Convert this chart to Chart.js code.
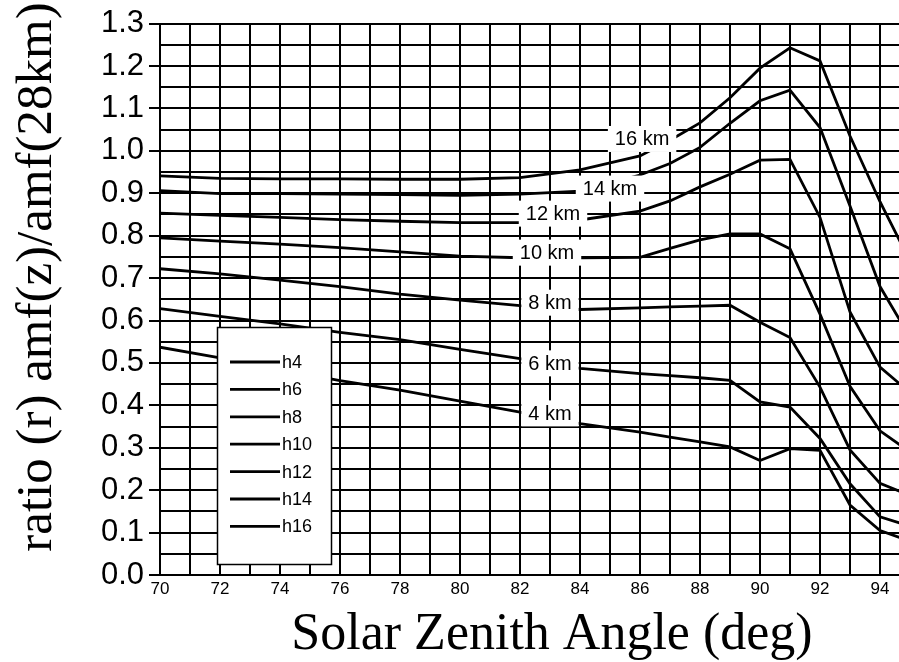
<!DOCTYPE html>
<html><head><meta charset="utf-8">
<script src="https://cdn.jsdelivr.net/npm/chart.js@4/dist/chart.umd.min.js"></script>
<style>html,body{margin:0;padding:0;background:#fff;overflow:hidden}canvas{display:block}</style>
</head><body>
<canvas id="c" width="899" height="662"></canvas>
<script>
// ---- data ----
const angles = [70,72,74,76,78,80,82,84,86,87,88,89,90,91,92,93,94,95];
const h4  = [0.537,0.512,0.485,0.458,0.436,0.410,0.384,0.357,0.337,0.325,0.314,0.302,0.270,0.298,0.294,0.165,0.105,0.080];
const h6  = [0.628,0.610,0.592,0.572,0.555,0.532,0.510,0.487,0.475,0.470,0.465,0.459,0.408,0.396,0.322,0.215,0.137,0.115];
const h8  = [0.722,0.710,0.695,0.680,0.662,0.648,0.635,0.626,0.630,0.632,0.634,0.636,0.596,0.560,0.443,0.295,0.216,0.188];
const h10 = [0.795,0.787,0.780,0.772,0.762,0.752,0.748,0.748,0.749,0.770,0.790,0.804,0.804,0.769,0.615,0.445,0.340,0.290];
const h12 = [0.853,0.848,0.843,0.838,0.834,0.831,0.831,0.837,0.858,0.882,0.915,0.945,0.978,0.980,0.843,0.620,0.490,0.430];
const h14 = [0.906,0.899,0.899,0.898,0.897,0.895,0.898,0.905,0.943,0.970,1.008,1.065,1.118,1.143,1.055,0.870,0.680,0.560];
const h16 = [0.941,0.935,0.934,0.934,0.933,0.933,0.937,0.955,0.988,1.025,1.066,1.125,1.195,1.243,1.212,1.035,0.880,0.740];
const seriesNames = ['h4','h6','h8','h10','h12','h14','h16'];
const curveLabels = ['4 km','6 km','8 km','10 km','12 km','14 km','16 km'];
const xTickLabels = ['70','72','74','76','78','80','82','84','86','88','90','92','94'];
const yTickLabels = ['0.0','0.1','0.2','0.3','0.4','0.5','0.6','0.7','0.8','0.9','1.0','1.1','1.2','1.3'];
const xTitle = 'Solar Zenith Angle (deg)';
const yTitle = 'ratio (r) amf(z)/amf(28km)';
const seriesValues = [h4,h6,h8,h10,h12,h14,h16];

const datasets = seriesNames.map((n,i)=>({
  label: n,
  data: angles.map((a,j)=>({x:a,y:seriesValues[i][j]})),
  borderColor:'#000', borderWidth:2.8, pointRadius:0, tension:0, fill:false
}));

const bgPlugin = {
  id:'bg',
  beforeDraw(chart){const c=chart.ctx;c.save();c.fillStyle='#fff';c.fillRect(0,0,chart.width,chart.height);c.restore();}
};

// inline curve labels, anchored in data coordinates
const curveLabelPlugin = {
  id:'curveLabels',
  afterDatasetsDraw(chart, args, opts){
    const c=chart.ctx, xs=chart.scales.x, ys=chart.scales.y;
    c.save();
    c.font='20px "Liberation Sans", Arial, sans-serif';
    c.textAlign='center'; c.textBaseline='middle';
    opts.anchors.forEach((p,i)=>{
      const px=xs.getPixelForValue(p[0]), py=ys.getPixelForValue(p[1]);
      const t=curveLabels[i], w=c.measureText(t).width+14, h=26;
      c.fillStyle='#fff'; c.fillRect(px-w/2,py-h/2,w,h);
      c.fillStyle='#000'; c.fillText(t,px,py+1);
    });
    c.restore();
  }
};

// boxed legend inside plot
const legendBoxPlugin = {
  id:'legendBox',
  afterDraw(chart, args, o){
    const c=chart.ctx;
    c.save();
    c.fillStyle='#fff'; c.fillRect(o.x,o.y,o.w,o.h);
    c.strokeStyle='#000'; c.lineWidth=1.5; c.strokeRect(o.x+0.5,o.y+0.5,o.w,o.h);
    c.font='18px "Liberation Sans", Arial, sans-serif';
    c.textBaseline='middle'; c.textAlign='left';
    seriesNames.forEach((n,i)=>{
      const y=o.y+o.first+i*o.step;
      c.beginPath(); c.moveTo(o.x+13,y); c.lineTo(o.x+63,y);
      c.lineWidth=2.8; c.strokeStyle='#000'; c.stroke();
      c.fillStyle='#000'; c.fillText(n,o.x+65,y+1);
    });
    c.restore();
  }
};

// axis titles
const axisTitlePlugin = {
  id:'axisTitles',
  afterDraw(chart, args, o){
    const c=chart.ctx;
    c.save();
    c.fillStyle='#000'; c.textAlign='center'; c.textBaseline='alphabetic';
    c.font='52px "Liberation Serif", "Times New Roman", serif';
    c.fillText(xTitle,o.xx,o.xy);
    c.translate(o.yx,o.yy); c.rotate(-Math.PI/2);
    c.font='51px "Liberation Serif", "Times New Roman", serif';
    c.fillText(yTitle,0,0);
    c.restore();
  }
};

new Chart(document.getElementById('c'),{
  type:'line',
  data:{datasets},
  plugins:[bgPlugin,curveLabelPlugin,legendBoxPlugin,axisTitlePlugin],
  options:{
    responsive:false, animation:false, devicePixelRatio:1,
    layout:{padding:{top:22,left:0,right:0,bottom:0}},
    plugins:{
      legend:{display:false}, tooltip:{enabled:false},
      curveLabels:{anchors:[[83.0,0.381],[83.0,0.499],[83.0,0.642],[82.9,0.760],[83.1,0.852],[85.0,0.911],[86.07,1.028]]},
      legendBox:{x:217,y:327,w:114,h:237,first:35,step:27.4},
      axisTitles:{xx:552,xy:649,yx:51,yy:277}
    },
    scales:{
      x:{
        type:'linear', min:70, max:70+739/30,
        afterFit(s){s.height=87;},
        border:{color:'#000',width:2},
        grid:{color:'#000',lineWidth:2,drawTicks:false},
        ticks:{stepSize:1,includeBounds:false,padding:4,maxRotation:0,autoSkip:false,color:'#000',
          font:{family:'"Liberation Sans", Arial, sans-serif',size:17},
          callback:(v)=>{const s=String(v);return xTickLabels.includes(s)?s:'';}}
      },
      y:{
        type:'linear', min:0, max:1.3,
        afterFit(s){s.width=160;},
        afterBuildTicks(s){const t=[];for(let i=0;i<=26;i++)t.push({value:i/20});s.ticks=t;},
        border:{color:'#000',width:2},
        grid:{color:'#000',lineWidth:2,tickLength:11,
          tickColor:(ctx)=>{const v=ctx.tick?ctx.tick.value:0;return Math.round(v*20)%2===0?'#000':'rgba(0,0,0,0)';}},
        ticks:{padding:5,color:'#000',autoSkip:false,
          font:{family:'"Liberation Sans", Arial, sans-serif',size:31},
          callback:(v)=>{const r=Math.round(v*20);return r%2===0?yTickLabels[r/2]:'';}}
      }
    }
  }
});
</script>
</body></html>
